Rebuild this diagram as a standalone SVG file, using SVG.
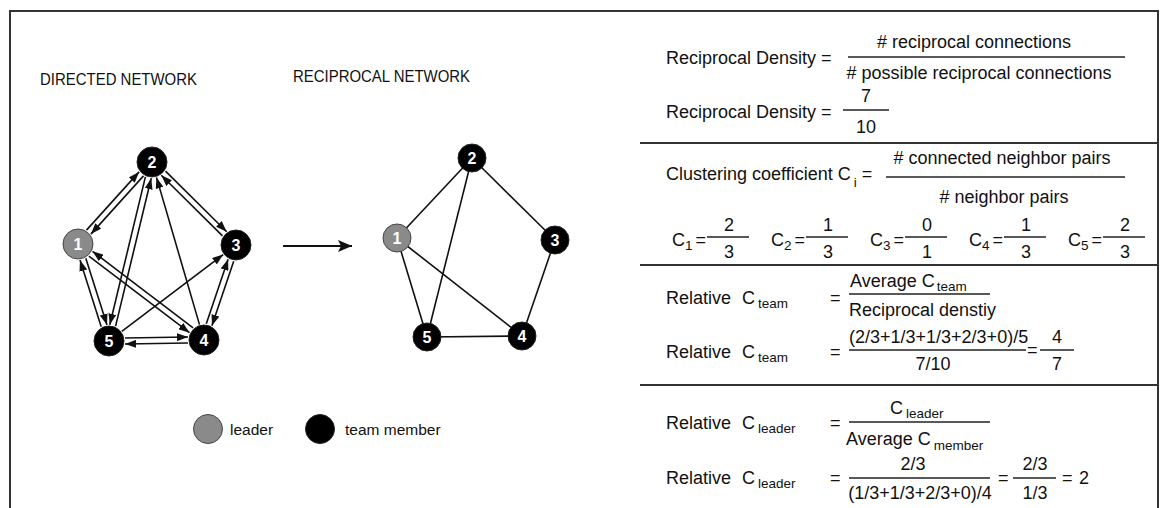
<svg xmlns="http://www.w3.org/2000/svg" width="1171" height="508" viewBox="0 0 1171 508">
<style>
.t{font-family:"Liberation Sans",Arial,sans-serif;font-size:18px;fill:#111}
.s{font-family:"Liberation Sans",Arial,sans-serif;font-size:13.5px;fill:#111}
.m{text-anchor:middle}
.ttl{font-family:"Liberation Sans",Arial,sans-serif;font-size:16.5px;fill:#111}
.fl{stroke:#222;stroke-width:1.3;fill:none}
.bd{stroke:#333;stroke-width:2;fill:none}
.e{stroke:#111;stroke-width:1.6;fill:none}
.ea{stroke:#111;stroke-width:1.6;fill:none;marker-end:url(#ah)}
.nd{fill:#000;stroke:#222;stroke-width:1}
.ld{fill:#8a8a8a;stroke:#444;stroke-width:1}
.nl{font-family:"Liberation Sans",Arial,sans-serif;font-weight:bold;font-size:16px;fill:#fff;text-anchor:middle}
</style>
<defs>
<marker id="ah" markerUnits="userSpaceOnUse" markerWidth="11" markerHeight="8" refX="11" refY="4" orient="auto">
<path d="M0,0 L11,4 L0,8 z" fill="#111"/>
</marker>
<marker id="bigah" markerUnits="userSpaceOnUse" markerWidth="14" markerHeight="12" refX="14" refY="6" orient="auto">
<path d="M0,0 L14,6 L0,12 L3,6 z" fill="#111"/>
</marker>
</defs>
<rect width="1171" height="508" fill="#fff"/>
<g id="frame">
<path class="bd" d="M10,508 V11 H1158 V508"/>
<line class="bd" x1="640" y1="143" x2="1158" y2="143" stroke-width="1.5"/>
<line class="bd" x1="640" y1="265" x2="1158" y2="265" stroke-width="1.5"/>
<line class="bd" x1="640" y1="385" x2="1158" y2="385" stroke-width="1.5"/>
</g>
<g id="titles">
<text class="ttl" x="40" y="85" textLength="157" lengthAdjust="spacingAndGlyphs">DIRECTED NETWORK</text>
<text class="ttl" x="293" y="82" textLength="177" lengthAdjust="spacingAndGlyphs">RECIPROCAL NETWORK</text>
</g>
<g id="connectors">
<line class="ea" x1="86.5" y1="230.1" x2="139.1" y2="171.9"/>
<line class="ea" x1="143.5" y1="175.9" x2="90.9" y2="234.1"/>
<line class="ea" x1="165.5" y1="171.1" x2="226.7" y2="231.7"/>
<line class="ea" x1="222.5" y1="235.9" x2="161.3" y2="175.3"/>
<line class="ea" x1="145.4" y1="176.9" x2="109.8" y2="324.7"/>
<line class="ea" x1="115.6" y1="326.1" x2="151.2" y2="178.3"/>
<line class="ea" x1="199.5" y1="324.6" x2="156.5" y2="177.4"/>
<line class="ea" x1="85.8" y1="258.3" x2="107.0" y2="324.9"/>
<line class="ea" x1="101.2" y1="326.7" x2="80.0" y2="260.1"/>
<line class="ea" x1="88.9" y1="256.1" x2="189.5" y2="332.7"/>
<line class="ea" x1="193.1" y1="327.9" x2="92.5" y2="251.3"/>
<line class="ea" x1="121.8" y1="331.4" x2="223.2" y2="254.6"/>
<line class="ea" x1="233.7" y1="261.2" x2="211.9" y2="325.8"/>
<line class="ea" x1="206.3" y1="323.8" x2="228.1" y2="259.2"/>
<line class="ea" x1="125" y1="338" x2="188" y2="337"/>
<line class="ea" x1="188" y1="343" x2="125" y2="344"/>
<line x1="283" y1="246" x2="352" y2="246" stroke="#111" stroke-width="2.2" marker-end="url(#bigah)"/>
<line class="e" x1="397" y1="238" x2="472" y2="158"/>
<line class="e" x1="472" y1="158" x2="555" y2="240"/>
<line class="e" x1="472" y1="158" x2="427" y2="337"/>
<line class="e" x1="397" y1="238" x2="427" y2="337"/>
<line class="e" x1="397" y1="238" x2="522" y2="336"/>
<line class="e" x1="555" y1="240" x2="522" y2="336"/>
<line class="e" x1="427" y1="337" x2="522" y2="336" stroke-width="1"/>
</g>
<g id="d1"><circle class="ld" cx="78" cy="244" r="15"/><text class="nl" x="78" y="250">1</text></g>
<g id="d2"><circle class="nd" cx="152" cy="162" r="15"/><text class="nl" x="152" y="168">2</text></g>
<g id="d3"><circle class="nd" cx="236" cy="245" r="15"/><text class="nl" x="236" y="251">3</text></g>
<g id="d4"><circle class="nd" cx="204" cy="340" r="15"/><text class="nl" x="204" y="346">4</text></g>
<g id="d5"><circle class="nd" cx="109" cy="341" r="15"/><text class="nl" x="109" y="347">5</text></g>
<g id="r1"><circle class="ld" cx="397" cy="238" r="14"/><text class="nl" x="397" y="244">1</text></g>
<g id="r2"><circle class="nd" cx="472" cy="158" r="14"/><text class="nl" x="472" y="164">2</text></g>
<g id="r3"><circle class="nd" cx="555" cy="240" r="14"/><text class="nl" x="555" y="246">3</text></g>
<g id="r4"><circle class="nd" cx="522" cy="336" r="14"/><text class="nl" x="522" y="342">4</text></g>
<g id="r5"><circle class="nd" cx="427" cy="337" r="14"/><text class="nl" x="427" y="343">5</text></g>
<g id="legend">
<circle class="ld" cx="208" cy="429" r="14.5"/>
<text class="t" x="230" y="435" style="font-size:15.5px">leader</text>
<circle class="nd" cx="320" cy="429" r="14.5"/>
<text class="t" x="345" y="435" style="font-size:15.5px">team member</text>
</g>
<g id="density">
<text class="t" x="666" y="64">Reciprocal Density =</text>
<text class="t m" x="974" y="48"># reciprocal connections</text>
<line class="fl" x1="848" y1="57" x2="1125" y2="57"/>
<text class="t m" x="979" y="79"># possible reciprocal connections</text>
<text class="t" x="666" y="118">Reciprocal Density =</text>
<text class="t m" x="866" y="102">7</text>
<line class="fl" x1="843" y1="110" x2="889" y2="110"/>
<text class="t m" x="866" y="133">10</text>
</g>
<g id="clustering">
<text class="t" x="666" y="180">Clustering coefficient C<tspan class="s" dx="3" dy="7">i</tspan><tspan dx="5" dy="-7">=</tspan></text>
<text class="t m" x="1002" y="164"># connected neighbor pairs</text>
<line class="fl" x1="886" y1="177" x2="1125" y2="177"/>
<text class="t m" x="1004" y="203"># neighbor pairs</text>
<text class="t" x="672" y="246">C<tspan class="s" dy="4">1</tspan><tspan dx="3" dy="-4">=</tspan></text>
<line class="fl" x1="707" y1="237" x2="749" y2="237"/>
<text class="t m" x="729" y="231">2</text><text class="t m" x="729" y="258">3</text>
<text class="t" x="771" y="246">C<tspan class="s" dy="4">2</tspan><tspan dx="3" dy="-4">=</tspan></text>
<line class="fl" x1="806" y1="237" x2="848" y2="237"/>
<text class="t m" x="828" y="231">1</text><text class="t m" x="828" y="258">3</text>
<text class="t" x="870" y="246">C<tspan class="s" dy="4">3</tspan><tspan dx="3" dy="-4">=</tspan></text>
<line class="fl" x1="905" y1="237" x2="947" y2="237"/>
<text class="t m" x="927" y="231">0</text><text class="t m" x="927" y="258">1</text>
<text class="t" x="969" y="246">C<tspan class="s" dy="4">4</tspan><tspan dx="3" dy="-4">=</tspan></text>
<line class="fl" x1="1004" y1="237" x2="1046" y2="237"/>
<text class="t m" x="1026" y="231">1</text><text class="t m" x="1026" y="258">3</text>
<text class="t" x="1068" y="246">C<tspan class="s" dy="4">5</tspan><tspan dx="3" dy="-4">=</tspan></text>
<line class="fl" x1="1103" y1="237" x2="1145" y2="237"/>
<text class="t m" x="1125" y="231">2</text><text class="t m" x="1125" y="258">3</text>
</g>
<g id="team">
<text class="t" x="666" y="304">Relative</text>
<text class="t" x="742" y="304">C<tspan class="s" dx="3" dy="4">team</tspan></text>
<text class="t" x="830" y="304">=</text>
<text class="t" x="850" y="287">Average C<tspan class="s" dx="2" dy="4">team</tspan></text>
<line class="fl" x1="849" y1="294" x2="990" y2="294"/>
<text class="t" x="849" y="316">Reciprocal denstiy</text>
<text class="t" x="666" y="358">Relative</text>
<text class="t" x="742" y="358">C<tspan class="s" dx="3" dy="4">team</tspan></text>
<text class="t" x="830" y="358">=</text>
<text class="t" x="849" y="343">(2/3+1/3+1/3+2/3+0)/5</text>
<line class="fl" x1="849" y1="350" x2="1026" y2="350"/>
<text class="t m" x="933" y="370">7/10</text>
<text class="t" x="1027" y="356">=</text>
<line class="fl" x1="1040" y1="350" x2="1074" y2="350"/>
<text class="t m" x="1057" y="343">4</text>
<text class="t m" x="1057" y="370">7</text>
</g>
<g id="leader">
<text class="t" x="666" y="429">Relative</text>
<text class="t" x="742" y="429">C<tspan class="s" dx="3" dy="4">leader</tspan></text>
<text class="t" x="830" y="429">=</text>
<text class="t" x="890" y="414">C<tspan class="s" dx="3" dy="4">leader</tspan></text>
<line class="fl" x1="849" y1="422" x2="990" y2="422"/>
<text class="t" x="846" y="445">Average C<tspan class="s" dx="3" dy="5">member</tspan></text>
<text class="t" x="666" y="484">Relative</text>
<text class="t" x="742" y="484">C<tspan class="s" dx="3" dy="4">leader</tspan></text>
<text class="t" x="830" y="484">=</text>
<text class="t m" x="913" y="470">2/3</text>
<line class="fl" x1="849" y1="478" x2="990" y2="478"/>
<text class="t m" x="920" y="499">(1/3+1/3+2/3+0)/4</text>
<text class="t" x="998" y="484">=</text>
<text class="t m" x="1035" y="470">2/3</text>
<line class="fl" x1="1013" y1="478" x2="1056" y2="478"/>
<text class="t m" x="1035" y="499">1/3</text>
<text class="t" x="1062" y="484">=</text>
<text class="t" x="1079" y="484">2</text>
</g>
</svg>
